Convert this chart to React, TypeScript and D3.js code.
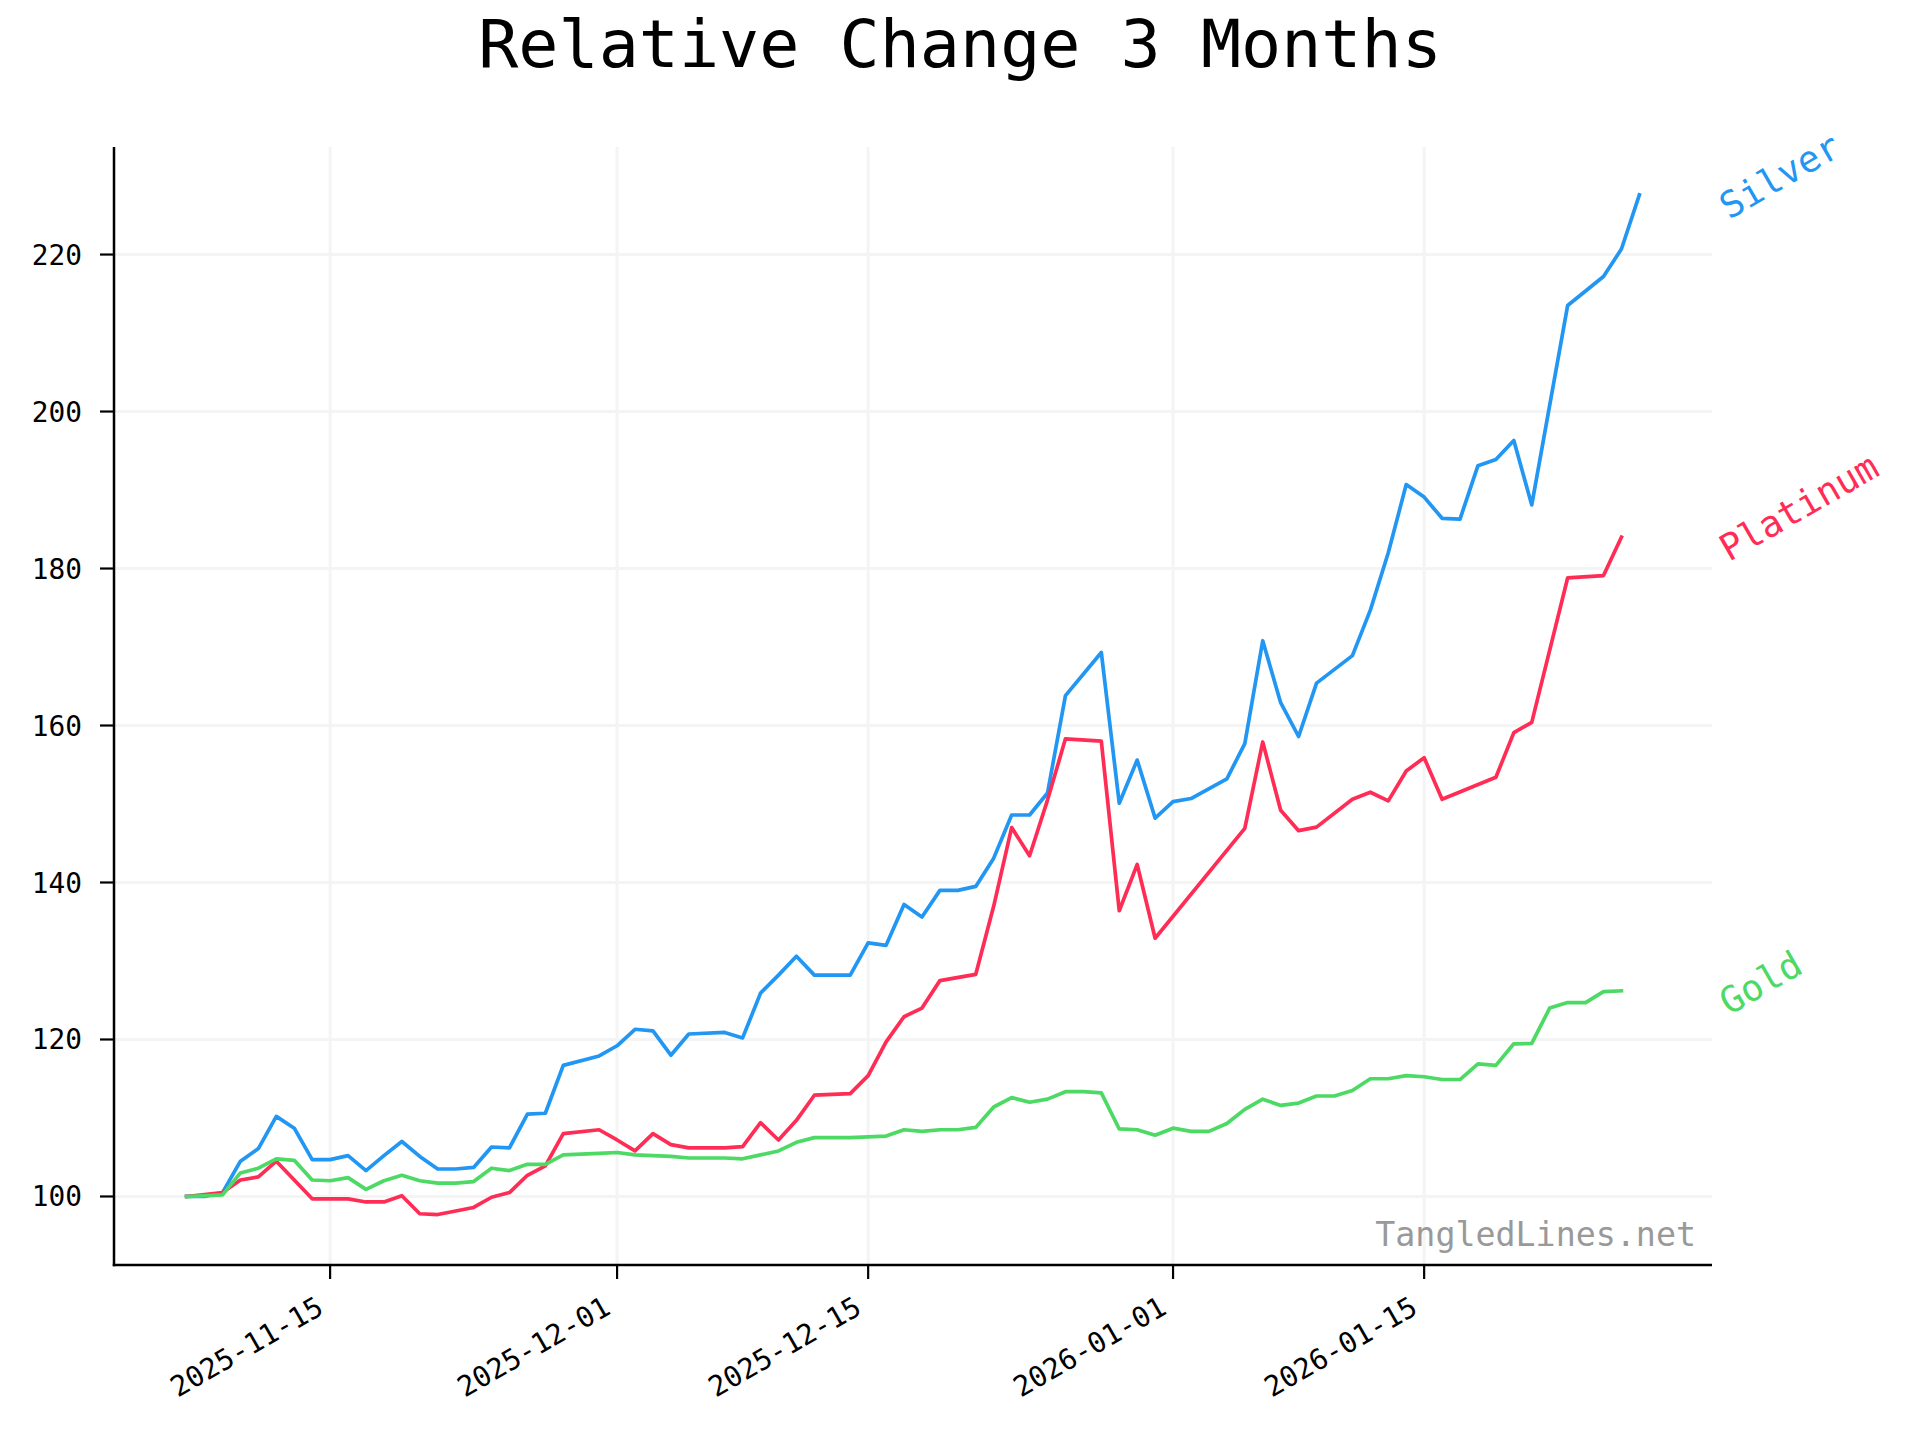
import React from 'react';
import * as d3 from 'd3';

// ---------- data ----------
const START_DATE = '2025-11-07';
const END_DATE = '2026-01-27';
const parse = d3.timeParse('%Y-%m-%d');
const DATES: Date[] = d3.timeDay.range(parse(START_DATE)!, d3.timeDay.offset(parse(END_DATE)!, 1));

// one value per calendar day from 2025-11-07; null = no point
const SILVER: (number | null)[] = [
  // Nov 7..30
  100.0, 100.0, 100.5, 104.5, 106.1, 110.2, 108.7, 104.7, 104.7, 105.2, 103.3, 105.2,
  107.0, 105.1, 103.5, 103.5, 103.7, 106.3, 106.2, 110.5, 110.6, 116.7, null, 117.9,
  // Dec 1..31
  119.2, 121.3, 121.1, 118.0, 120.7, null, 120.9, 120.2, 125.9, 128.2, 130.6, 128.2,
  128.2, 128.2, 132.3, 132.0, 137.2, 135.6, 139.0, 139.0, 139.5, 143.1, 148.6, 148.6,
  151.4, 163.8, null, 169.3, 150.1, 155.6, 148.2,
  // Jan 1..27
  150.3, 150.7, null, 153.2, 157.7, 170.8, 162.9, 158.6, 165.4, null, 168.9, 174.7,
  182.0, 190.7, 189.1, 186.4, 186.3, 193.1, 193.9, 196.3, 188.1, null, 213.5, null,
  217.2, 220.7, 227.6,
];

const PLATINUM: (number | null)[] = [
  // Nov 7..30
  100.0, null, 100.5, 102.1, 102.5, 104.5, null, 99.7, 99.7, 99.7, 99.3, 99.3,
  100.1, 97.8, 97.7, null, 98.6, 99.9, 100.5, 102.7, 103.9, 108.0, null, 108.5,
  // Dec 1..31
  107.2, 105.8, 108.0, 106.6, 106.2, null, 106.2, 106.35, 109.4, 107.2, 109.7, 112.9,
  null, 113.1, 115.4, 119.7, 122.9, 124.0, 127.5, null, 128.3, 137.0, 147.0, 143.4,
  150.5, 158.3, null, 158.0, 136.4, 142.3, 132.9,
  // Jan 1..27
  null, null, null, null, 146.9, 157.9, 149.2, 146.6, 147.05, null, 150.6, 151.5,
  150.4, 154.2, 155.9, 150.6, null, null, 153.4, 159.1, 160.4, null, 178.8, null,
  179.1, 184.0, null,
];

const GOLD: (number | null)[] = [
  // Nov 7..30
  100.0, null, 100.2, 103.0, 103.6, 104.8, 104.6, 102.1, 102.0, 102.4, 100.9, 102.0,
  102.7, 102.0, 101.7, 101.7, 101.9, 103.6, 103.3, 104.1, 104.1, 105.3, null, 105.5,
  // Dec 1..31
  105.6, 105.3, 105.2, 105.1, 104.9, null, 104.9, 104.8, 105.3, 105.8, 106.9, 107.5,
  null, 107.5, 107.6, 107.7, 108.5, 108.3, 108.5, 108.5, 108.8, 111.4, 112.6, 112.0,
  112.4, 113.35, 113.35, 113.2, 108.6, 108.5, 107.8,
  // Jan 1..27
  108.7, 108.3, 108.3, 109.3, 111.1, 112.4, 111.6, 111.9, 112.8, 112.8, 113.5, 115.0,
  115.0, 115.4, 115.25, 114.9, 114.9, 116.9, 116.7, 119.45, 119.5, 124.0, 124.7, 124.7,
  126.1, 126.2, null,
];

const SERIES_NAMES = ['Silver', 'Platinum', 'Gold'];
const SERIES_VALUES = [SILVER, PLATINUM, GOLD];
const SERIES_COLORS = ['#2196F3', '#FF2D55', '#4CD964'];

const X_TICKS = ['2025-11-15', '2025-12-01', '2025-12-15', '2026-01-01', '2026-01-15'];
const Y_TICKS = [100, 120, 140, 160, 180, 200, 220];
const Y_DOMAIN = [91.27, 233.7];

const TITLE = 'Relative Change 3 Months';
const WATERMARK = 'TangledLines.net';

// ---------- layout ----------
const W = 1920;
const H = 1440;
const LEFT = 114;
const RIGHT = 1712;
const TOP = 147;
const BOTTOM = 1265;
const FONT = '"DejaVu Sans Mono", "Liberation Mono", monospace';

export default function App() {
  const t0 = DATES[0].getTime();
  const t1 = DATES[DATES.length - 1].getTime();
  const pad = (t1 - t0) * 0.05;
  const x = d3.scaleTime().domain([new Date(t0 - pad), new Date(t1 + pad)]).range([LEFT, RIGHT]);
  const y = d3.scaleLinear().domain(Y_DOMAIN).range([BOTTOM, TOP]);

  const line = d3
    .line<{ d: Date; v: number }>()
    .x((p) => x(p.d))
    .y((p) => y(p.v));

  const series = SERIES_NAMES.map((name, i) => {
    const pts = DATES.map((d, j) => ({ d, v: SERIES_VALUES[i][j] as number | null }))
      .filter((p) => p.v !== null && p.v !== undefined) as { d: Date; v: number }[];
    return { name, color: SERIES_COLORS[i], pts };
  });

  const xTicks = X_TICKS.map((s) => ({ s, d: parse(s)! }));

  return (
    <svg
      width={W}
      height={H}
      viewBox={`0 0 ${W} ${H}`}
      style={{ position: 'absolute', left: 0, top: 0, background: '#fff' }}
    >
      <rect x={0} y={0} width={W} height={H} fill="#fff" />
      {/* title */}
      <text x={960} y={67} textAnchor="middle" fontFamily={FONT} fontSize={66.7} fill="#000">
        {TITLE}
      </text>

      {/* grid */}
      <g stroke="#f4f4f4" strokeWidth={3}>
        {xTicks.map((t) => (
          <line key={t.s} x1={x(t.d)} x2={x(t.d)} y1={TOP} y2={BOTTOM} />
        ))}
        {Y_TICKS.map((v) => (
          <line key={v} x1={LEFT} x2={RIGHT} y1={y(v)} y2={y(v)} />
        ))}
      </g>

      {/* lines */}
      {series.map((s) => (
        <path
          key={s.name}
          d={line(s.pts) || ''}
          fill="none"
          stroke={s.color}
          strokeWidth={3.7}
          strokeLinejoin="round"
          strokeLinecap="square"
        />
      ))}

      {/* end labels */}
      {series.map((s) => {
        const last = s.pts[s.pts.length - 1];
        return (
          <text
            key={s.name}
            transform={`translate(1729, ${y(last.v) + 25}) rotate(-30)`}
            fontFamily={FONT}
            fontSize={36.5}
            fill={s.color}
          >
            {s.name}
          </text>
        );
      })}

      {/* watermark */}
      <text x={1696} y={1246} textAnchor="end" fontFamily={FONT} fontSize={33.3} fill="#999">
        {WATERMARK}
      </text>

      {/* spines */}
      <line x1={LEFT} x2={LEFT} y1={TOP} y2={BOTTOM + 1.25} stroke="#000" strokeWidth={2.5} />
      <line x1={LEFT - 1.25} x2={RIGHT} y1={BOTTOM} y2={BOTTOM} stroke="#000" strokeWidth={2.5} />

      {/* y ticks */}
      {Y_TICKS.map((v) => (
        <g key={v}>
          <line x1={LEFT - 14} x2={LEFT} y1={y(v)} y2={y(v)} stroke="#000" strokeWidth={2.2} />
          <text
            x={82}
            y={y(v)}
            dy="0.36em"
            textAnchor="end"
            fontFamily={FONT}
            fontSize={27.8}
            fill="#000"
          >
            {v}
          </text>
        </g>
      ))}

      {/* x ticks */}
      {xTicks.map((t) => (
        <g key={t.s}>
          <line x1={x(t.d)} x2={x(t.d)} y1={BOTTOM} y2={BOTTOM + 14} stroke="#000" strokeWidth={2.2} />
          <text
            transform={`translate(${x(t.d) - 15}, ${BOTTOM + 30}) rotate(-30)`}
            dy="0.72em"
            textAnchor="end"
            fontFamily={FONT}
            fontSize={28.3}
            fill="#000"
          >
            {t.s}
          </text>
        </g>
      ))}
    </svg>
  );
}
